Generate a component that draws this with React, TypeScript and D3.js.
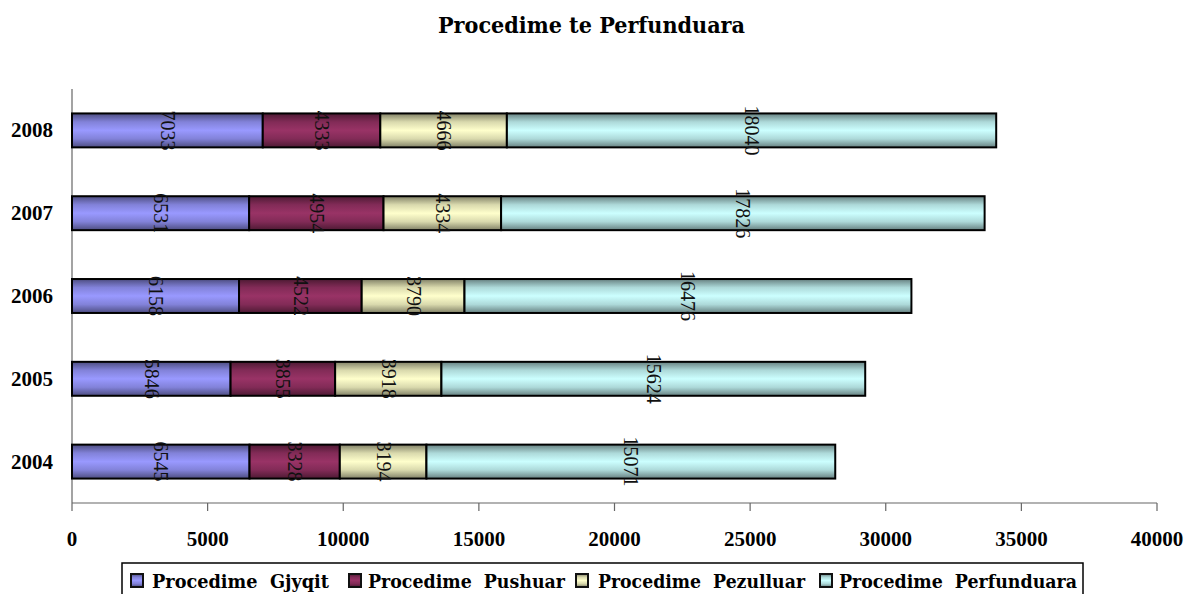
import React from "react";
import * as d3 from "d3";

const years = ["2008", "2007", "2006", "2005", "2004"];
const seriesNames = ["Procedime  Gjyqit", "Procedime  Pushuar", "Procedime  Pezulluar", "Procedime  Perfunduara"];
const gjyqit = [7033, 6531, 6158, 5846, 6545];
const pushuar = [4333, 4954, 4522, 3855, 3328];
const pezulluar = [4666, 4334, 3790, 3918, 3194];
const perfunduara = [18040, 17826, 16476, 15624, 15071];
const xTicks = [0, 5000, 10000, 15000, 20000, 25000, 30000, 35000, 40000];
const colors = ["#9999FF", "#993366", "#FFFFCC", "#CCFFFF"];

const W = 1190, H = 594;
const numFont = "'Liberation Serif', serif";
const textFont = "'DejaVu Serif', serif";

export default function App() {
  const x = d3.scaleLinear().domain([0, 40000]).range([72, 1157]);
  const y = d3.scaleBand().domain(years).range([89, 503]).paddingInner(0.59).paddingOuter(0.295);
  const seriesVals = [gjyqit, pushuar, pezulluar, perfunduara];
  const rows = years.map((yr, i) => {
    let acc = 0;
    return seriesVals.map((s, k) => {
      const v = s[i];
      const seg = { k, yr, v, x0: acc, x1: acc + v };
      acc += v;
      return seg;
    });
  });
  const bh = y.bandwidth();
  const darken = (c: string, f: number) => d3.interpolateRgb(c, "#000")(f);
  const legendMarkX = [130, 348, 575, 819];
  const legendTextX = [152, 368, 598, 839];
  const legendTextW = [177, 197, 207, 238];
  return (
    <svg width={W} height={H} style={{ position: "absolute", left: 0, top: 0 }}>
      <defs>
        {colors.map((c, i) => (
          <linearGradient key={i} id={`g${i}`} x1="0" y1="0" x2="0" y2="1">
            <stop offset="0" stopColor={darken(c, 0.5)} />
            <stop offset="0.25" stopColor={darken(c, 0.15)} />
            <stop offset="0.5" stopColor={c} />
            <stop offset="0.75" stopColor={darken(c, 0.15)} />
            <stop offset="1" stopColor={darken(c, 0.5)} />
          </linearGradient>
        ))}
      </defs>
      <rect width={W} height={H} fill="#fff" />
      <text x={438} y={33} fontFamily={textFont} fontWeight="bold" fontSize={22}
        textLength={307} lengthAdjust="spacingAndGlyphs">Procedime te Perfunduara</text>
      {/* axes */}
      <line x1={72} y1={89} x2={72} y2={503} stroke="#666" strokeWidth={1.2} />
      <line x1={72} y1={503} x2={1157} y2={503} stroke="#666" strokeWidth={1.2} />
      {xTicks.map((t) => (
        <g key={t}>
          <line x1={x(t)} x2={x(t)} y1={503} y2={511} stroke="#666" strokeWidth={1.2} />
          <text x={x(t)} y={546} textAnchor="middle" fontFamily={numFont} fontWeight="bold" fontSize={21}>{t}</text>
        </g>
      ))}
      {years.map((yr) => (
        <text key={yr} x={53} y={(y(yr) as number) + bh / 2 + 7} textAnchor="end"
          fontFamily={numFont} fontWeight="bold" fontSize={21}>{yr}</text>
      ))}
      {rows.map((row) =>
        row.map((s) => (
          <rect key={s.yr + s.k} x={x(s.x0)} y={y(s.yr)} width={x(s.x1) - x(s.x0)} height={bh}
            fill={`url(#g${s.k})`} stroke="#000" strokeWidth={2} />
        ))
      )}
      {rows.map((row) =>
        row.map((s) => {
          const cx = (x(s.x0) + x(s.x1)) / 2;
          const cy = (y(s.yr) as number) + bh / 2;
          return (
            <text key={"t" + s.yr + s.k} transform={`translate(${cx},${cy}) rotate(90)`} textAnchor="middle"
              dy={6.5} fontFamily={numFont} fontSize={20} fill="#111">{s.v}</text>
          );
        })
      )}
      {/* legend */}
      <rect x={122} y={563} width={961} height={45} fill="#fff" stroke="#000" strokeWidth={1.5} />
      {seriesNames.map((n, i) => (
        <g key={n}>
          <rect x={legendMarkX[i] + 1} y={574} width={12} height={13} fill={`url(#g${i})`} stroke="#111" strokeWidth={2} />
          <text x={legendTextX[i]} y={588} fontFamily={textFont} fontWeight="bold" fontSize={18}
            textLength={legendTextW[i]} lengthAdjust="spacingAndGlyphs" style={{ whiteSpace: "pre" }}>{n}</text>
        </g>
      ))}
    </svg>
  );
}
